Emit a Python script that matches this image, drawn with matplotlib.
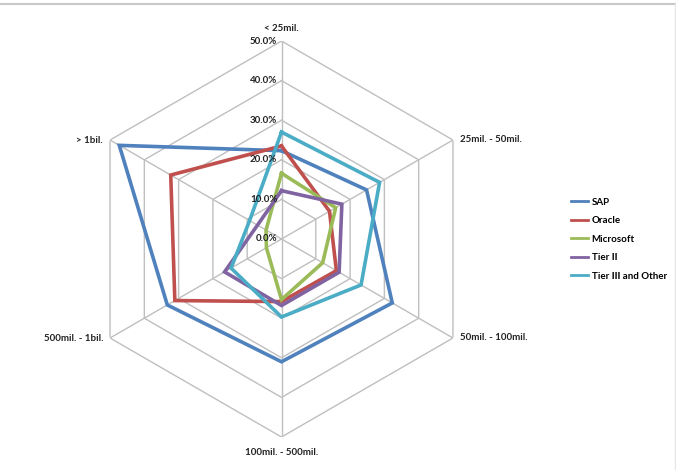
import numpy as np
import matplotlib
matplotlib.use("Agg")
import matplotlib.pyplot as plt
from matplotlib.lines import Line2D

categories = ["< 25mil.", "25mil. - 50mil.", "50mil. - 100mil.",
              "100mil. - 500mil.", "500mil. - 1bil.", "> 1bil."]
series_names = ["SAP", "Oracle", "Microsoft", "Tier II", "Tier III and Other"]
sap = [22.3, 24.8, 32.3, 31.0, 33.3, 47.3]
oracle = [23.5, 14.0, 16.0, 15.8, 31.1, 32.3]
microsoft = [16.6, 15.8, 12.0, 15.3, 4.4, 4.5]
tier2 = [12.2, 17.6, 16.8, 16.8, 16.6, 7.0]
tier3 = [27.0, 28.6, 23.2, 19.7, 14.7, 9.3]
tick_values = [0, 10, 20, 30, 40, 50]
tick_labels = ["0.0%", "10.0%", "20.0%", "30.0%", "40.0%", "50.0%"]

colors = ["#4F81BD", "#C0504D", "#9BBB59", "#8064A2", "#4BACC6"]
data = [sap, oracle, microsoft, tier2, tier3]

plt.rcParams['font.family'] = ['Lato', 'DejaVu Sans']

W, H = 676, 470
fig = plt.figure(figsize=(W / 100, H / 100), dpi=100)
fig.patch.set_facecolor("white")

cx, cy, R = 281.5, 239, 198
ax = fig.add_axes([(cx - R) / W, 1 - (cy + R) / H, 2 * R / W, 2 * R / H],
                  projection="polar")
ax.set_theta_offset(np.pi / 2)
ax.set_theta_direction(-1)
ax.set_ylim(0, 50)
ax.grid(False)
ax.spines["polar"].set_visible(False)
ax.set_xticks([])
ax.set_yticks([])
ax.patch.set_alpha(0)

n = len(categories)
angles = np.linspace(0, 2 * np.pi, n, endpoint=False)
closed = np.concatenate([angles, angles[:1]])

grid_color = "#BFBFBF"
for r in tick_values[1:]:
    ax.plot(closed, [r] * (n + 1), color=grid_color, lw=1.0, zorder=1)
for a in angles:
    ax.plot([a, a], [0, 50], color=grid_color, lw=1.0, zorder=1)

for vals, col in zip(data, colors):
    v = list(vals) + [vals[0]]
    ax.plot(closed, v, color=col, lw=2.6, zorder=3, solid_joinstyle="miter")

fs = 7
for r, lab in zip(tick_values, tick_labels):
    ax.annotate(lab, xy=(0, r), xytext=(-3, 0), textcoords="offset points",
                ha="right", va="center", fontsize=fs, color="#222222",
                fontweight="bold", zorder=4)

offsets = [((0, 6), "center", "bottom"),
           ((5, 0), "left", "center"),
           ((5, 0), "left", "center"),
           ((0, -8), "center", "top"),
           ((-5, 0), "right", "center"),
           ((-5, 0), "right", "center")]
for a, lab, (off, ha, va) in zip(angles, categories, offsets):
    ax.annotate(lab, xy=(a, 50), xytext=off, textcoords="offset points",
                ha=ha, va=va, fontsize=fs, color="#222222", fontweight="bold")

handles = [Line2D([0], [0], color=c, lw=2.0) for c in colors]
fig.legend(handles, series_names, loc="upper left",
           bbox_to_anchor=(562 / W, 1 - 189 / H), frameon=False,
           handlelength=1.8, handletextpad=0.35,
           labelspacing=0.98, prop={"weight": "bold", "size": fs})

# frame edges
fig.add_artist(Line2D([0, 1], [1 - 4 / H, 1 - 4 / H], color="#C8C8C8", lw=1.5,
                      transform=fig.transFigure))
fig.add_artist(Line2D([1 - 1 / W, 1 - 1 / W], [0, 1 - 4 / H], color="#E6E6E6",
                      lw=1.0, transform=fig.transFigure))

fig.savefig("out.png", dpi=100, facecolor="white")
